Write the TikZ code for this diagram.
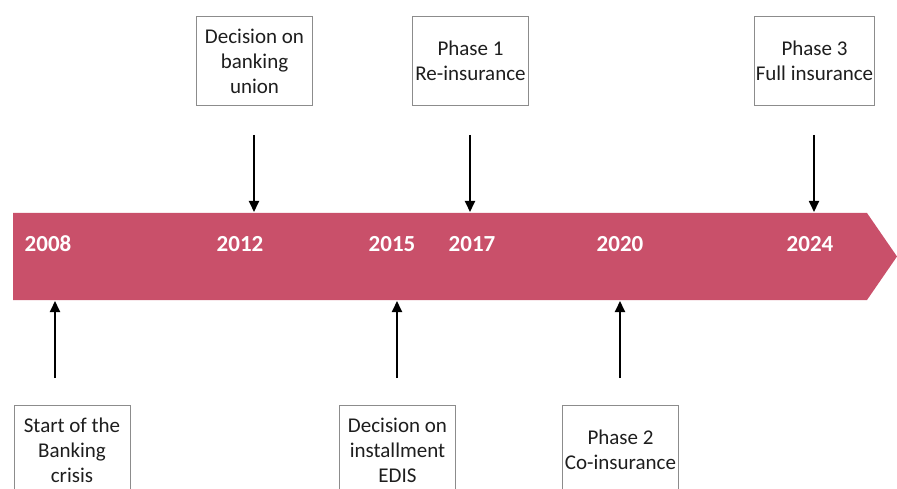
\documentclass[tikz,border=0pt]{standalone}
\usepackage{fontspec}
\setmainfont{Carlito}
\usetikzlibrary{arrows.meta}
\definecolor{band}{RGB}{201,80,106}
\definecolor{boxline}{RGB}{140,140,140}
\definecolor{txt}{RGB}{30,30,30}
\tikzset{
  evbox/.style={draw=boxline, line width=0.9pt, fill=white, minimum width=116pt, minimum height=89pt,
    inner sep=1pt, align=center, font=\fontsize{21}{25}\selectfont, text=txt},
  yearlbl/.style={text=white, font=\fontsize{23}{27}\selectfont\bfseries, inner sep=0pt},
  evarrow/.style={line width=1.8pt, -{Triangle[length=11pt,width=10pt]}}
}
\begin{document}
\begin{tikzpicture}[x=1pt,y=-1pt]
\useasboundingbox (0,0) rectangle (897,489);
\clip (0,0) rectangle (897,489);
% band
\fill[band] (13,213) -- (867,213) -- (897,256.5) -- (867,300) -- (13,300) -- cycle;
% years
\node[yearlbl] (y2008) at (48,244) {2008};
\node[yearlbl] (y2012) at (240,244) {2012};
\node[yearlbl] (y2015) at (392,244) {2015};
\node[yearlbl] (y2017) at (472,244) {2017};
\node[yearlbl] (y2020) at (620,244) {2020};
\node[yearlbl] (y2024) at (810,244) {2024};
% top boxes
\node[evbox] (b2012) at (254.5,61) {Decision on\\banking\\union};
\node[evbox] (b2017) at (470.5,61) {Phase 1\\Re-insurance};
\node[evbox] (b2024) at (814.5,61) {Phase 3\\Full insurance};
% bottom boxes
\node[evbox] (b2008) at (72,450) {Start of the\\Banking\\crisis};
\node[evbox] (b2015) at (397.5,450) {Decision on\\installment\\EDIS};
\node[evbox] (b2020) at (620.5,450) {Phase 2\\Co-insurance};
% arrow coordinates
\coordinate (d12s) at (254,135); \coordinate (d12e) at (254,212);
\coordinate (d17s) at (470,135); \coordinate (d17e) at (470,212);
\coordinate (d24s) at (814,135); \coordinate (d24e) at (814,212);
\coordinate (u08s) at (55,378); \coordinate (u08e) at (55,301);
\coordinate (u15s) at (397,378); \coordinate (u15e) at (397,301);
\coordinate (u20s) at (620,378); \coordinate (u20e) at (620,301);
\draw[evarrow] (d12s) -- (d12e);
\draw[evarrow] (d17s) -- (d17e);
\draw[evarrow] (d24s) -- (d24e);
\draw[evarrow] (u08s) -- (u08e);
\draw[evarrow] (u15s) -- (u15e);
\draw[evarrow] (u20s) -- (u20e);
\end{tikzpicture}
\end{document}
